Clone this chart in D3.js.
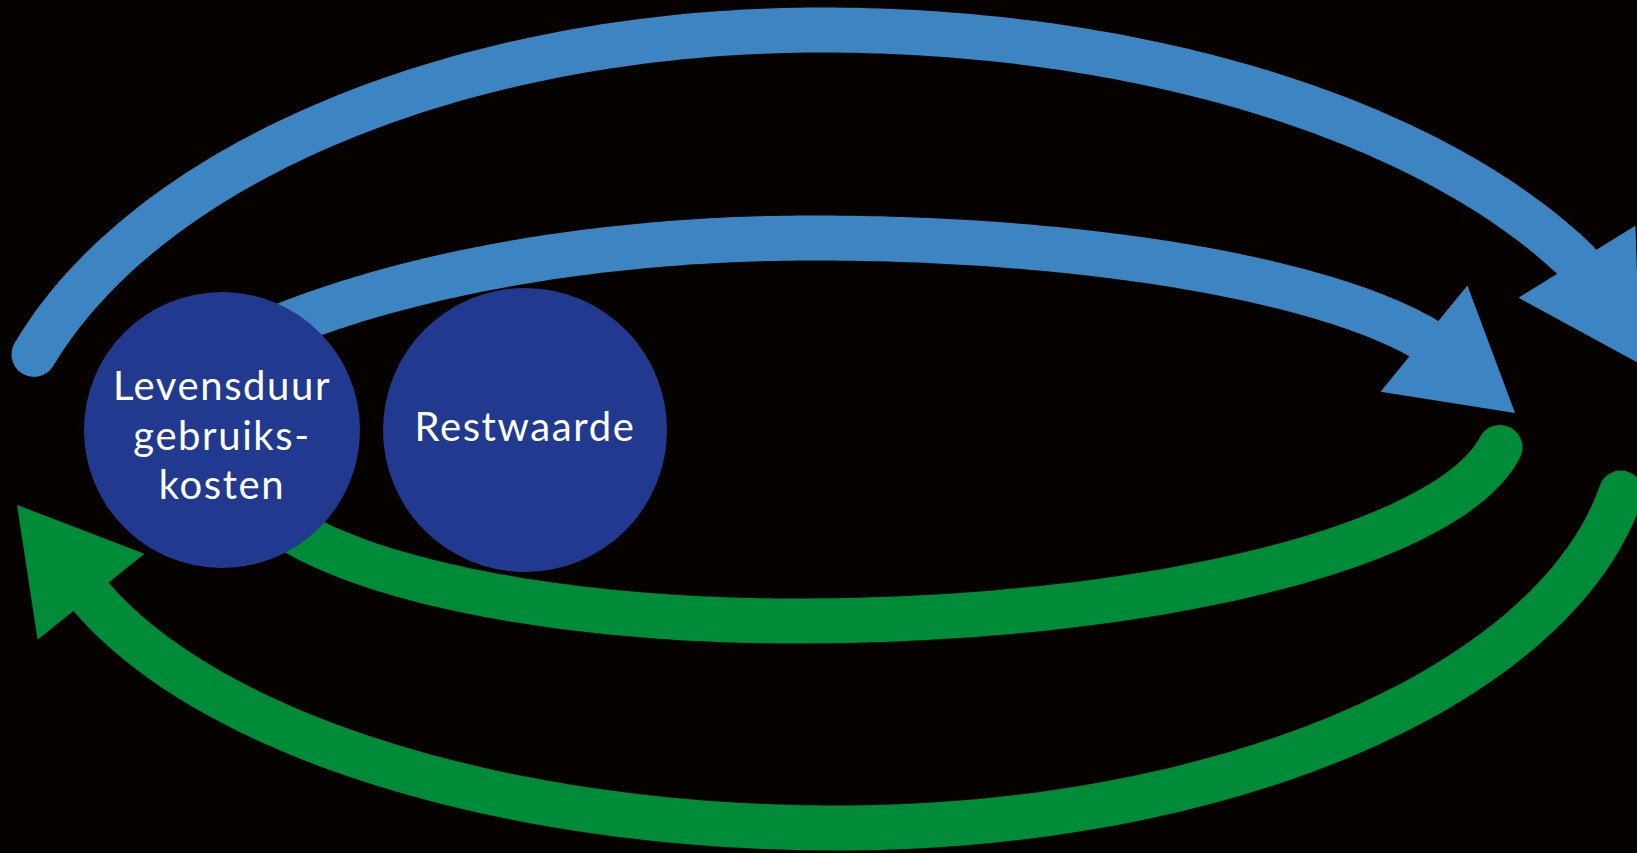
<!DOCTYPE html>
<html>
<head>
<meta charset="utf-8">
<script src="https://cdn.jsdelivr.net/npm/d3@7"></script>
<style>
html,body{margin:0;padding:0;background:#050200;overflow:hidden}
svg{display:block}
</style>
</head>
<body>
<svg id="chart"></svg>
<script>
// ---- data ----
const nodeLabels = [["Levensduur", "gebruiks-", "kosten"], ["Restwaarde"]];
const nodeCx = [222, 525];
const nodeCy = [430, 430];
const nodeR  = [138, 142];

// four flows, each a pair of quarter-ellipses meeting at an apex
const flowNames      = ["outerBlue", "innerBlue", "innerGreen", "outerGreen"];
const flowGroups     = ["blue", "blue", "green", "green"];
const flowBulge      = ["up", "up", "down", "down"];
const flowDirection  = ["ltr", "ltr", "rtl", "rtl"];
const flowApex       = [[822, 30], [813, 238], [795, 621], [837, 828]];
const flowLeftRadii  = [[833, 480], [759, 308], [556, 158], [800, 362]];
const flowRightRadii = [[854, 435], [667, 168], [713, 204], [796, 405]];
const flowLeftEndX   = [34, 270, 258, 91];
const flowRightEndX  = [1577, 1424, 1500, 1621];
const flowTips       = [[1640, 364], [1515, 413], null, [17, 505]];

// ---- setup ----
const W = 1637, H = 853;
const colors = {bg: "#050200", blue: "#3d84c3", green: "#008b38", node: "#213a8f", text: "#ffffff"};
const strokeW = 45, headHalf = 68.6, steps = 80;

const svg = d3.select("#chart").attr("width", W).attr("height", H);
svg.append("rect").attr("width", W).attr("height", H).attr("fill", colors.bg);

const x = d3.scaleLinear().domain([0, 1637]).range([0, W]);
const y = d3.scaleLinear().domain([0, 853]).range([0, H]);

const line = d3.line().x(d => x(d[0])).y(d => y(d[1])).curve(d3.curveLinear);

function flowPoints(i) {
  const [ax, ay] = flowApex[i];
  const [rxL, ryL] = flowLeftRadii[i];
  const [rxR, ryR] = flowRightRadii[i];
  const sgn = flowBulge[i] === "up" ? 1 : -1;
  const tL = Math.acos(Math.max(-1, (flowLeftEndX[i] - ax) / rxL));
  const tR = Math.acos(Math.min(1, (flowRightEndX[i] - ax) / rxR));
  const left = d3.range(steps + 1).map(k => {
    const t = tL + (Math.PI / 2 - tL) * k / steps;
    return [ax + rxL * Math.cos(t), ay + sgn * ryL * (1 - Math.sin(t))];
  });
  const right = d3.range(1, steps + 1).map(k => {
    const t = Math.PI / 2 + (tR - Math.PI / 2) * k / steps;
    return [ax + rxR * Math.cos(t), ay + sgn * ryR * (1 - Math.sin(t))];
  });
  const pts = left.concat(right);
  return flowDirection[i] === "rtl" ? pts.reverse() : pts;
}

const gFlows = svg.append("g");
flowNames.forEach((name, i) => {
  const col = colors[flowGroups[i]];
  const pts = flowPoints(i);
  gFlows.append("path")
    .attr("class", "flow " + name)
    .attr("d", line(pts))
    .attr("fill", "none")
    .attr("stroke", col)
    .attr("stroke-width", strokeW)
    .attr("stroke-linecap", "round")
    .attr("stroke-linejoin", "round");
  const tip = flowTips[i];
  if (tip) {
    const b = pts[pts.length - 1];
    const bx = x(b[0]), by = y(b[1]), tx = x(tip[0]), ty = y(tip[1]);
    const len = Math.hypot(tx - bx, ty - by);
    const dx = (tx - bx) / len, dy = (ty - by) / len;
    const nx = -dy, ny = dx;
    const poly = [[bx + nx * headHalf, by + ny * headHalf], [tx, ty], [bx - nx * headHalf, by - ny * headHalf]];
    gFlows.append("path")
      .attr("class", "arrowhead " + name)
      .attr("d", d3.line()(poly) + "Z")
      .attr("fill", col);
  }
});

// ---- nodes ----
const nodes = nodeLabels.map((lab, i) => ({lab, cx: nodeCx[i], cy: nodeCy[i], r: nodeR[i]}));
const gNodes = svg.append("g").selectAll("g").data(nodes).join("g");
gNodes.append("circle")
  .attr("cx", d => x(d.cx)).attr("cy", d => y(d.cy)).attr("r", d => d.r)
  .attr("fill", colors.node);

const lh = 49.5;
gNodes.each(function(d) {
  const n = d.lab.length;
  const off = 11 + 4.25 * (n - 1);
  d3.select(this).selectAll("text").data(d.lab).join("text")
    .attr("x", x(d.cx))
    .attr("y", (t, j) => y(d.cy) + off + (j - (n - 1) / 2) * lh)
    .attr("text-anchor", "middle")
    .attr("fill", colors.text)
    .attr("font-family", "Lato, 'Noto Sans', sans-serif")
    .attr("font-size", 40)
    .attr("letter-spacing", 1.6)
    .text(t => t);
});
</script>
</body>
</html>
